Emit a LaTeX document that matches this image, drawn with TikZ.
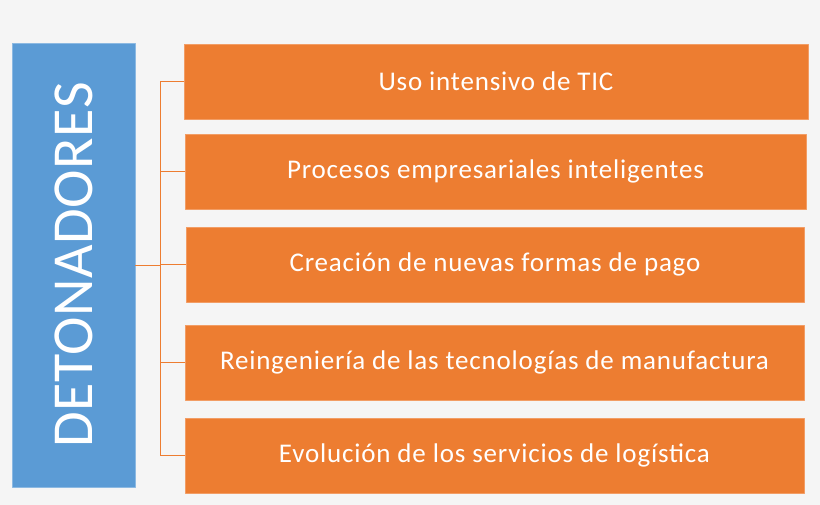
\documentclass[tikz,border=0pt]{standalone}
\usepackage{fontspec}
\setmainfont{Carlito}
\newfontfamily\cajafont[LetterSpace=3]{Carlito}
\newfontfamily\titfont[LetterSpace=1]{Carlito}
\definecolor{fondo}{HTML}{F5F5F5}
\definecolor{azul}{HTML}{5B9BD5}
\definecolor{naranja}{HTML}{ED7D31}
\tikzset{
  detbox/.style={fill=azul, draw=azul!70!white, line width=0.8pt, minimum width=123pt, minimum height=444pt, inner sep=0pt, text=white},
  causa/.style={fill=naranja, draw=naranja!75!white, line width=0.8pt, minimum height=75pt, inner sep=0pt, text=white, font=\cajafont\fontsize{27}{30}\selectfont},
  rama/.style={draw=naranja, line width=0.8pt}
}
\begin{document}
\begin{tikzpicture}[x=1pt, y=-1pt, line join=round, line cap=round]
\useasboundingbox[fill=fondo] (0,0) rectangle (820,505);
\node[detbox] (det) at (73.5,265) {\rotatebox{90}{\titfont\fontsize{58}{60}\selectfont DETONADORES}};
\foreach \n/\x/\y/\w/\t in {1/496/81.5/624/Uso intensivo de TIC,
  2/495.5/171.5/621/Procesos empresariales inteligentes,
  3/495/264.5/618/Creación de nuevas formas de pago,
  4/494.5/362.5/619/Reingeniería de las tecnologías de manufactura,
  5/494.5/455.5/619/Evolución de los servicios de logística}
  \node[causa, minimum width=\w pt] (b\n) at (\x,\y) {\t};
\path (det.east) ++(25,0) coordinate (j);
\draw[rama] (det.east) -- (j);
\draw[rama] (j |- b1.west) -- (j |- b5.west);
\foreach \n in {1,...,5} \draw[rama] (j |- b\n.west) -- (b\n.west);
\end{tikzpicture}
\end{document}
